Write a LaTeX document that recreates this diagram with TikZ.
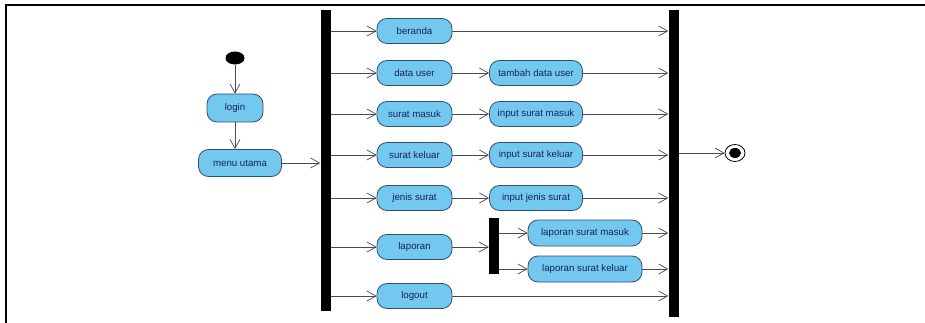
\documentclass[tikz,border=0pt]{standalone}
\usepackage{fontspec}
\setmainfont{Liberation Sans}
\usetikzlibrary{arrows.meta,positioning,shapes.geometric}
\definecolor{actfill}{RGB}{115,200,240}
\definecolor{actline}{RGB}{50,80,110}
\definecolor{acttext}{RGB}{25,35,85}
\definecolor{flowgray}{RGB}{75,75,75}
\begin{document}
\begin{tikzpicture}[x=1pt,y=-1pt,
  act/.style={draw=actline, line width=0.8pt, fill=actfill, rounded corners=10pt,
    minimum width=75pt, minimum height=25pt, inner sep=0pt, text=acttext,
    font=\fontsize{9.7}{10}\selectfont},
  flow/.style={draw=flowgray, line width=0.7pt, -{Straight Barb[length=9pt,width=10pt]}},
  bar/.style={fill=black, inner sep=0pt, minimum width=10pt}]

  \useasboundingbox (0,0) rectangle (925,323);
  \draw[line width=2.2pt] (6,323) -- (6,5) -- (925,5);

  % start, login, menu
  \node[ellipse, fill=black, minimum width=19pt, minimum height=13pt, inner sep=0pt] (start) at (235,58) {};
  \node[act, minimum width=56pt, minimum height=28pt] (login) at (235,108) {login};
  \node[act, minimum width=83pt, minimum height=27pt] (menu) at (240,163) {menu utama};

  % fork and join bars
  \node[bar, minimum height=301pt] (fork) at (325.5,160.5) {};
  \node[bar, minimum height=307pt] (join) at (673.5,163.5) {};

  % first column
  \node[act] (beranda) at (414.5,31) {beranda};
  \node[act] (datauser) at (414.5,73) {data user};
  \node[act] (masuk) at (414.5,114) {surat masuk};
  \node[act] (keluar) at (414.5,155) {surat keluar};
  \node[act] (jenis) at (414.5,198) {jenis surat};
  \node[act] (laporan) at (414.5,247) {laporan};
  \node[act] (logout) at (414.5,296) {logout};

  % second column
  \node[act, minimum width=93pt] (tambah) at (536,73) {tambah data user};
  \node[act, minimum width=93pt] (inmasuk) at (536,114) {input surat masuk};
  \node[act, minimum width=93pt] (inkeluar) at (536,155) {input surat keluar};
  \node[act, minimum width=93pt] (injenis) at (536,198) {input jenis surat};

  % laporan branch
  \node[bar, minimum height=56pt] (lapfork) at (494,246) {};
  \node[act, minimum width=114pt, minimum height=26pt] (lapmasuk) at (585,233) {laporan surat masuk};
  \node[act, minimum width=114pt, minimum height=26pt] (lapkeluar) at (585,269) {laporan surat keluar};

  % end
  \node[ellipse, draw=black, line width=0.8pt, minimum width=20pt, minimum height=17pt, inner sep=0pt] (final) at (735,153) {};
  \node[ellipse, fill=black, minimum width=12pt, minimum height=10pt, inner sep=0pt] (finaldot) at (final) {};

  \draw[flow] (start) -- (login);
  \draw[flow] (login) -- (login |- menu.north);
  \draw[flow] (menu) -- (menu -| fork.west);

  \draw[flow] (fork.east |- beranda) -- (beranda);
  \draw[flow] (fork.east |- datauser) -- (datauser);
  \draw[flow] (fork.east |- masuk) -- (masuk);
  \draw[flow] (fork.east |- keluar) -- (keluar);
  \draw[flow] (fork.east |- jenis) -- (jenis);
  \draw[flow] (fork.east |- laporan) -- (laporan);
  \draw[flow] (fork.east |- logout) -- (logout);

  \draw[flow] (datauser) -- (tambah);
  \draw[flow] (masuk) -- (inmasuk);
  \draw[flow] (keluar) -- (inkeluar);
  \draw[flow] (jenis) -- (injenis);
  \draw[flow] (laporan) -- (laporan -| lapfork.west);
  \draw[flow] (lapfork.east |- lapmasuk) -- (lapmasuk);
  \draw[flow] (lapfork.east |- lapkeluar) -- (lapkeluar);

  \draw[flow] (beranda) -- (beranda -| join.west);
  \draw[flow] (tambah) -- (tambah -| join.west);
  \draw[flow] (inmasuk) -- (inmasuk -| join.west);
  \draw[flow] (inkeluar) -- (inkeluar -| join.west);
  \draw[flow] (injenis) -- (injenis -| join.west);
  \draw[flow] (lapmasuk) -- (lapmasuk -| join.west);
  \draw[flow] (lapkeluar) -- (lapkeluar -| join.west);
  \draw[flow] (logout) -- (logout -| join.west);

  \draw[flow] (join.east |- final) -- (final);
\end{tikzpicture}
\end{document}
